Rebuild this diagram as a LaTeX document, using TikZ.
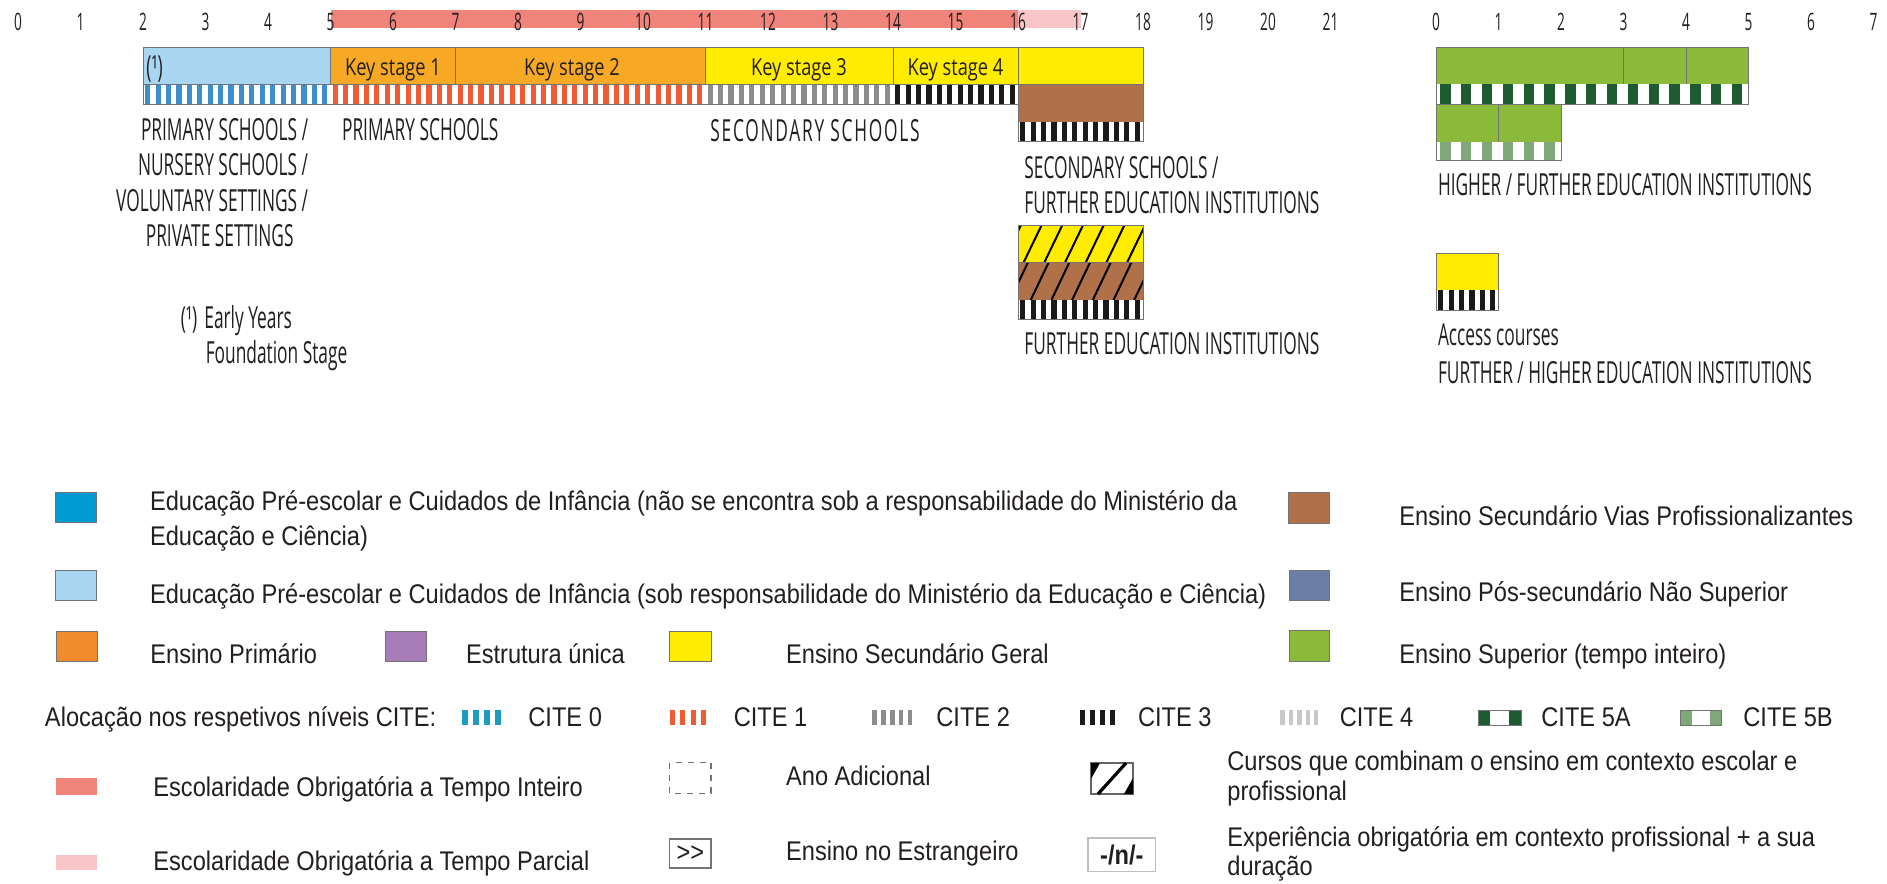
\documentclass[tikz,border=0pt]{standalone}
\usepackage{fontspec}
\setmainfont{Liberation Sans}
\newfontfamily\labfont[FakeStretch=0.57]{Open Sans}
\newfontfamily\labwide[FakeStretch=0.57,LetterSpace=5.7]{Open Sans}
\newfontfamily\keyfont[FakeStretch=0.78]{Open Sans}
\newfontfamily\legfont[FakeStretch=0.875]{Liberation Sans}

\definecolor{txt}{HTML}{231F20}
\definecolor{cmpfull}{HTML}{F0837A}
\definecolor{cmppart}{HTML}{F9C5C8}
\definecolor{preMEC}{HTML}{A8D5F0}
\definecolor{preOut}{HTML}{009BD3}
\definecolor{barOrange}{HTML}{F7A926}
\definecolor{legOrange}{HTML}{F08C2E}
\definecolor{secYel}{HTML}{FFEC00}
\definecolor{vocBrown}{HTML}{B0714A}
\definecolor{postSlate}{HTML}{6C7EA6}
\definecolor{highGreen}{HTML}{8CBB3C}
\definecolor{uniPurple}{HTML}{A67DB8}
\definecolor{cite0}{HTML}{3C8FCC}
\definecolor{cite0i}{HTML}{1E9BC0}
\definecolor{cite1}{HTML}{EE5B35}
\definecolor{cite2}{HTML}{8C8C8C}
\definecolor{cite3}{HTML}{1A1A1A}
\definecolor{cite4}{HTML}{C8C8C8}
\definecolor{cite5a}{HTML}{1F5B30}
\definecolor{cite5b}{HTML}{7FA77A}

\tikzset{
  frame/.style={draw=black!55, line width=0.5pt},
  swatch/.style={draw=black!55, line width=0.5pt},
  axisnum/.style={anchor=base, inner sep=0pt, font=\labfont\fontsize{12}{14}\selectfont, text=txt},
  keylab/.style={anchor=base, inner sep=0pt, font=\keyfont\fontsize{11.7}{14}\selectfont, text=txt},
  schoollab/.style={anchor=base west, inner sep=0pt, font=\labfont\fontsize{15.2}{17.8}\selectfont, text=txt},
  legtext/.style={anchor=base west, inner sep=0pt, font=\legfont\fontsize{13.5}{17.5}\selectfont, text=txt},
}

% stripes of a CITE level: x1, x2, y1, y2, number, colour
\newcommand{\citebar}[6]{%
  \fill[white] (#1,#3) rectangle (#2,#4);
  \pgfmathsetmacro{\stw}{(#2-#1)/#5}
  \foreach \i in {1,...,#5}{
    \fill[#6] ({#1+(\i-0.8)*\stw},#3) rectangle ({#1+(\i-0.3)*\stw},#4);
  }
}

\begin{document}
\begin{tikzpicture}[x=0.5pt,y=-0.5pt]
\fill[white] (0,0) rectangle (1887,884);
\useasboundingbox (0,0) rectangle (1887,884);

% compulsory schooling and ages
\fill[cmpfull] (330.5,10) rectangle (1018,28.3);
\fill[cmppart] (1018,10) rectangle (1080.5,28.3);
\foreach \n in {0,...,21} \node[axisnum] (age\n) at ({18+62.5*\n},30) {\n};
\foreach \n in {0,...,7} \node[axisnum] (yr\n) at ({1436+62.5*\n},30) {\n};

% main row
\fill[preMEC] (143,47.7) rectangle (330.5,84.3);
\fill[barOrange] (330.5,47.7) rectangle (705.5,84.3);
\fill[secYel] (705.5,47.7) rectangle (1143,84.3);
\draw[frame] (143,47.7) rectangle (1143,84.3);
\foreach \a in {330.5,455.5,705.5,893,1018} \draw[frame] (\a,47.7) -- (\a,84.3);
\citebar{143}{330.5}{84.3}{104.3}{18}{cite0}
\citebar{330.5}{705.5}{84.3}{104.3}{36}{cite1}
\citebar{705.5}{893}{84.3}{104.3}{18}{cite2}
\citebar{893}{1018}{84.3}{104.3}{12}{cite3}
\draw[frame] (143,84.3) rectangle (1018,104.3);
\fill[vocBrown] (1018,84.3) rectangle (1143,121.7);
\citebar{1018}{1143}{121.7}{141.7}{12}{cite3}
\draw[frame] (1018,84.3) rectangle (1143,141.7);

\node[schoollab] (note) at (146,77) {(¹)};
\node[keylab] (ks1) at (393,75) {Key stage 1};
\node[keylab] (ks2) at (572,75) {Key stage 2};
\node[keylab] (ks3) at (799,75) {Key stage 3};
\node[keylab] (ks4) at (955.5,75) {Key stage 4};

% combined courses
\fill[secYel] (1018,225) rectangle (1143,262.3);
\fill[vocBrown] (1018,262.3) rectangle (1143,300);
\begin{scope}
  \clip (1018,225) rectangle (1143,300);
  \foreach \k in {0,...,7} {
    \draw[black, line width=1pt] ({1003+20.7*\k},262.3) -- ++(18,-37.3);
    \draw[black, line width=1pt] ({1010+20.7*\k},300) -- ++(18,-37.7);
  }
\end{scope}
\citebar{1018}{1143}{300}{319.3}{12}{cite3}
\draw[frame] (1018,225) rectangle (1143,319.3);
\draw[frame] (1018,262.3) -- (1143,262.3);

% higher education
\fill[highGreen] (1436,47.7) rectangle (1748.5,84.3);
\citebar{1436}{1748.5}{84.3}{104.3}{15}{cite5a}
\fill[highGreen] (1436,104.3) rectangle (1561,141.7);
\citebar{1436}{1561}{141.7}{160}{6}{cite5b}
\draw[frame] (1436,47.7) rectangle (1748.5,104.3);
\draw[frame] (1436,104.3) rectangle (1561,160);
\foreach \a in {1623.5,1686} \draw[frame] (\a,47.7) -- (\a,84.3);
\draw[frame] (1498.5,104.3) -- (1498.5,141.7);
\fill[secYel] (1436,253.3) rectangle (1498.5,290);
\citebar{1436}{1498.5}{290}{310}{6}{cite3}
\draw[frame] (1436,253.3) rectangle (1498.5,310);

% institutions
\node[schoollab, anchor=base east] (early1) at (308.5,140) {PRIMARY SCHOOLS /};
\node[schoollab, anchor=base east] (early2) at (308.5,175.6) {NURSERY SCHOOLS /};
\node[schoollab, anchor=base east] (early3) at (308.5,211.2) {VOLUNTARY SETTINGS /};
\node[schoollab, anchor=base east] (early4) at (294,246.8) {PRIVATE SETTINGS};
\node[schoollab] (primlab) at (341.7,140) {PRIMARY SCHOOLS};
\node[schoollab, font=\labwide\fontsize{15.2}{17.8}\selectfont] (seclab) at (710,141) {SECONDARY SCHOOLS};
\node[schoollab] (six1) at (1024,178.3) {SECONDARY SCHOOLS /};
\node[schoollab] (six2) at (1024,213.3) {FURTHER EDUCATION INSTITUTIONS};
\node[schoollab] (felab) at (1024,354) {FURTHER EDUCATION INSTITUTIONS};
\node[schoollab] (helab) at (1437.6,195) {HIGHER / FURTHER EDUCATION INSTITUTIONS};
\node[schoollab] (acc1) at (1437.6,345) {Access courses};
\node[schoollab] (acc2) at (1437.6,383.3) {FURTHER / HIGHER EDUCATION INSTITUTIONS};
\node[schoollab] (eyfsmark) at (180.5,328) {(¹)};
\node[schoollab] (eyfs1) at (204,328) {Early Years};
\node[schoollab] (eyfs2) at (205.4,363.3) {Foundation Stage};

% legend
\draw[swatch, fill=preOut] (55.8,492.7) rectangle (96,522.7);
\node[legtext] (lgpreout1) at (149.6,510)
  {Educação Pré-escolar e Cuidados de Infância (não se encontra sob a responsabilidade do Ministério da};
\node[legtext] (lgpreout2) at (149.6,545) {Educação e Ciência)};
\draw[swatch, fill=preMEC] (55.8,570.7) rectangle (96,600.7);
\node[legtext] (lgpremec) at (149.6,603.3)
  {Educação Pré-escolar e Cuidados de Infância (sob responsabilidade do Ministério da Educação e Ciência)};
\draw[swatch, fill=legOrange] (56,631.7) rectangle (97,661.7);
\node[legtext] (lgprim) at (150,663.3) {Ensino Primário};
\draw[swatch, fill=uniPurple] (385.8,631.7) rectangle (426,661.7);
\node[legtext] (lgsingle) at (465.6,663.3) {Estrutura única};
\draw[swatch, fill=secYel] (669.6,631.7) rectangle (711,661.7);
\node[legtext] (lgsecgen) at (785.7,663.3) {Ensino Secundário Geral};
\draw[swatch, fill=vocBrown] (1288.8,492.7) rectangle (1329.8,523.3);
\node[legtext] (lgvoc) at (1399,525) {Ensino Secundário Vias Profissionalizantes};
\draw[swatch, fill=postSlate] (1289.8,570) rectangle (1329.5,600.7);
\node[legtext] (lgpost) at (1399,601.7) {Ensino Pós-secundário Não Superior};
\draw[swatch, fill=highGreen] (1289.8,630) rectangle (1329.5,661.7);
\node[legtext] (lghigh) at (1399,663.3) {Ensino Superior (tempo inteiro)};

\node[legtext] (lgcite) at (44.6,726.7) {Alocação nos respetivos níveis CITE:};
\citebar{460}{504}{710}{725}{4}{cite0i}
\node[legtext] (lgc0) at (528,726.7) {CITE 0};
\citebar{668}{709}{710}{725}{4}{cite1}
\node[legtext] (lgc1) at (733.4,726.7) {CITE 1};
\citebar{870.5}{915}{710}{725}{5}{cite2}
\node[legtext] (lgc2) at (936,726.7) {CITE 2};
\citebar{1078}{1118}{710}{725}{4}{cite3}
\node[legtext] (lgc3) at (1137.7,726.7) {CITE 3};
\citebar{1278.6}{1321}{710}{725}{5}{cite4}
\node[legtext] (lgc4) at (1339.4,726.7) {CITE 4};
\fill[cite5a] (1478,710) rectangle (1521,725);
\fill[white] (1490,710) rectangle (1509,725);
\draw[frame] (1478,710) rectangle (1521,725);
\node[legtext] (lgc5a) at (1541,726.7) {CITE 5A};
\fill[cite5b] (1680,710) rectangle (1721.7,725);
\fill[white] (1692,710) rectangle (1710,725);
\draw[frame] (1680,710) rectangle (1721.7,725);
\node[legtext] (lgc5b) at (1743,726.7) {CITE 5B};

\fill[cmpfull] (56,778) rectangle (97,795);
\node[legtext] (lgfull) at (153,796.7) {Escolaridade Obrigatória a Tempo Inteiro};
\fill[cmppart] (56,855) rectangle (97,870);
\node[legtext] (lgpart) at (153,870) {Escolaridade Obrigatória a Tempo Parcial};
\draw[black!55, dashed, line width=0.6pt] (669.6,762.7) rectangle (711,793.3);
\node[legtext] (lgextra) at (785.7,785) {Ano Adicional};
\draw[black!55, line width=0.6pt] (669.6,839) rectangle (711,868);
\node[legtext, anchor=center] (abroadmark) at (690.3,853.5) {>>};
\node[legtext] (lgabroad) at (785.7,860) {Ensino no Estrangeiro};

\draw[black!60, line width=0.6pt] (1091,763) rectangle (1133,794);
\fill[black] (1091,763) -- (1100,763) -- (1091,779) -- cycle;
\fill[black] (1133,794) -- (1124,794) -- (1133,778) -- cycle;
\draw[black, line width=1.6pt] (1098,794) -- (1126,763);
\node[legtext] (lgdual1) at (1227,770) {Cursos que combinam o ensino em contexto escolar e};
\node[legtext] (lgdual2) at (1227,800) {profissional};
\draw[black!25, line width=0.6pt] (1088,838) rectangle (1155.6,871.7);
\node[legtext, anchor=center, font=\legfont\bfseries\fontsize{13.5}{17.5}\selectfont] (workmark) at (1121.8,854.8) {-/n/-};
\node[legtext] (lgwork1) at (1227,846.7) {Experiência obrigatória em contexto profissional + a sua};
\node[legtext] (lgwork2) at (1227,875) {duração};
\end{tikzpicture}
\end{document}
